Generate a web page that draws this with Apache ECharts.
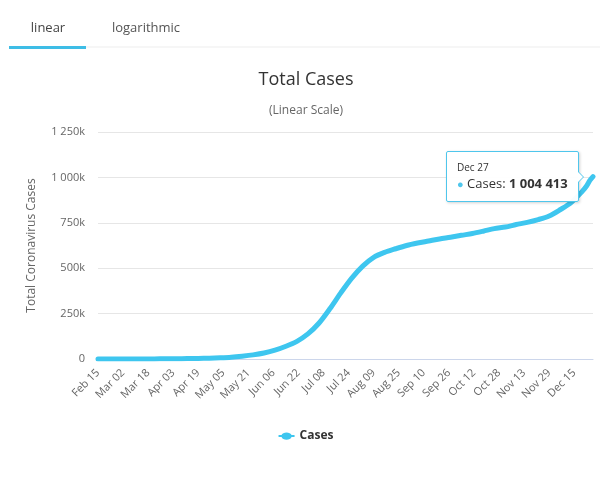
<!DOCTYPE html>
<html>
<head>
<meta charset="utf-8">
<script src="https://cdn.jsdelivr.net/npm/echarts@6/dist/echarts.min.js"></script>
<style>
html,body{margin:0;padding:0;background:#fff;}
#c{width:612px;height:486px;}
</style>
</head>
<body>
<div id="c"></div>
<script>
// ---- data ----
var startDate = '2020-02-15';
var dayCount = 317; // Feb 15 .. Dec 27
var sampleDates = ['Feb 15','Mar 05','Mar 15','Mar 22','Mar 29','Apr 05','Apr 12','Apr 19','Apr 26','May 03','May 10','May 17','May 24','May 31','Jun 07','Jun 14','Jun 21','Jun 28','Jul 05','Jul 12','Jul 19','Jul 26','Aug 02','Aug 09','Aug 16','Aug 23','Aug 30','Sep 06','Sep 13','Sep 20','Sep 27','Oct 04','Oct 11','Oct 18','Oct 25','Nov 01','Nov 08','Nov 15','Nov 22','Nov 29','Dec 06','Dec 13','Dec 20','Dec 23','Dec 25','Dec 27'];
var cases = [0,1,51,274,1280,1655,2173,3158,4546,6783,10015,15515,22583,32683,48285,70038,97302,138134,196750,276242,364328,445433,511485,559859,587345,607045,625056,638517,649793,661211,670766,681289,690896,703793,717851,726823,740254,752269,767679,787702,821889,860964,921922,954258,983359,1004413];
var yTicks = [0,250000,500000,750000,1000000,1250000];
var tabs = ['linear','logarithmic'];

// ---- build categories (tick labels) ----
var months = ['Jan','Feb','Mar','Apr','May','Jun','Jul','Aug','Sep','Oct','Nov','Dec'];
var categories = [];
var d0 = new Date(startDate + 'T00:00:00Z');
for (var i = 0; i < dayCount; i++) {
  var d = new Date(d0.getTime() + i * 86400000);
  var dd = d.getUTCDate();
  categories.push(months[d.getUTCMonth()] + ' ' + (dd < 10 ? '0' + dd : dd));
}
function spaced(n){ return String(n).replace(/\B(?=(\d{3})+(?!\d))/g, ' '); }

var seriesData = sampleDates.map(function(dt, k){ return [dt, cases[k]]; });

var FONT = '"Open Sans", sans-serif';
var HFONT = "'Open Sans', sans-serif";
var BLUE = '#3ec6ef';
var chart = echarts.init(document.getElementById('c'), null, {renderer:'canvas'});
chart.setOption({
  animation: false,
  textStyle: {fontFamily: FONT},
  title: [
    {text: 'Total Cases', left: 'center', top: 66, textStyle: {fontFamily: FONT, fontSize: 18, fontWeight: 'normal', color: '#333'}},
    {text: '(Linear Scale)', left: 'center', top: 100, textStyle: {fontFamily: FONT, fontSize: 12, fontWeight: 'normal', color: '#666'}}
  ],
  graphic: [
    {type: 'rect', shape: {x: 9, y: 46.5, width: 591, height: 1}, style: {fill: '#eeeeee'}, silent: true},
    {type: 'rect', shape: {x: 9, y: 46, width: 77, height: 3}, style: {fill: '#3ebde6'}, silent: true},
    {type: 'text', x: 48, y: 28, style: {text: tabs[0], fontFamily: FONT, fontSize: 13, fill: '#444', align: 'center', verticalAlign: 'middle'}},
    {type: 'text', x: 146, y: 28, style: {text: tabs[1], fontFamily: FONT, fontSize: 13, fill: '#555', align: 'center', verticalAlign: 'middle'}}
  ],
  grid: {left: 98, right: 19, top: 132, bottom: 127},
  legend: {
    top: 425, left: 'center',
    itemWidth: 16, itemHeight: 8, itemGap: 8,
    data: [{name: 'Cases', icon: 'path://M0,3 L3,3 C4,-0.5 12,-0.5 13,3 L16,3 L16,5 L13,5 C12,8.5 4,8.5 3,5 L0,5 Z', itemStyle: {color: BLUE}}],
    textStyle: {fontFamily: FONT, fontSize: 12, fontWeight: 'bold', color: '#333'}
  },
  tooltip: {
    trigger: 'axis',
    axisPointer: {type: 'none'},
    alwaysShowContent: true,
    transitionDuration: 0,
    backgroundColor: 'rgba(255,255,255,0.96)',
    borderColor: '#4fc6ec',
    borderWidth: 1,
    padding: [8, 10],
    extraCssText: 'box-shadow:1px 1px 3px rgba(0,0,0,0.18);border-radius:2px;overflow:visible;',
    position: function(point, params, dom, rect, size){
      return [point[0] - size.contentSize[0] - 14, point[1] - size.contentSize[1] / 2];
    },
    formatter: function(ps){
      var p = Array.isArray(ps) ? ps[0] : ps;
      return '<div style="position:relative;font-family:' + HFONT + ';color:#333;">' +
        '<div style="font-size:10px;line-height:14px;">' + p.value[0] + '</div>' +
        '<div style="font-size:13px;line-height:18px;white-space:nowrap;"><span style="color:#4fc6ec;font-size:11px;">\u25CF</span> Cases: <b>' + spaced(p.value[1]) + '</b></div>' +
        '<div style="position:absolute;right:-16px;top:50%;margin-top:-6px;width:0;height:0;border-top:6px solid transparent;border-bottom:6px solid transparent;border-left:6px solid #4fc6ec;"></div>' +
        '<div style="position:absolute;right:-15px;top:50%;margin-top:-5px;width:0;height:0;border-top:5px solid transparent;border-bottom:5px solid transparent;border-left:5px solid #fff;"></div>' +
        '</div>';
    }
  },
  xAxis: {
    type: 'category',
    data: categories,
    boundaryGap: false,
    axisLine: {lineStyle: {color: '#ccd6eb'}},
    axisTick: {show: false},
    axisLabel: {interval: 15, rotate: 45, fontSize: 11, color: '#666', margin: 12, fontFamily: FONT},
    splitLine: {show: false}
  },
  yAxis: {
    type: 'value',
    min: yTicks[0], max: yTicks[yTicks.length - 1], interval: yTicks[1] - yTicks[0],
    name: 'Total Coronavirus Cases',
    nameLocation: 'middle',
    nameGap: 60,
    nameTextStyle: {fontFamily: FONT, fontSize: 12, color: '#666'},
    axisLine: {show: false},
    axisTick: {show: false},
    axisLabel: {fontSize: 11, color: '#666', margin: 13, fontFamily: FONT,
      formatter: function(v){ return v === 0 ? '0' : spaced(v / 1000) + 'k'; }},
    splitLine: {lineStyle: {color: '#e6e6e6'}}
  },
  series: [{
    name: 'Cases',
    type: 'line',
    data: seriesData,
    symbol: 'none',
    showSymbol: false,
    smooth: 0.3,
    lineStyle: {color: BLUE, width: 5, cap: 'round', join: 'round'},
    itemStyle: {color: BLUE},
    emphasis: {disabled: true}
  }]
});
function showLast(){
  chart.dispatchAction({type: 'showTip', seriesIndex: 0, dataIndex: cases.length - 1});
}
showLast();
setTimeout(showLast, 0);
setTimeout(showLast, 50);
</script>
</body>
</html>
